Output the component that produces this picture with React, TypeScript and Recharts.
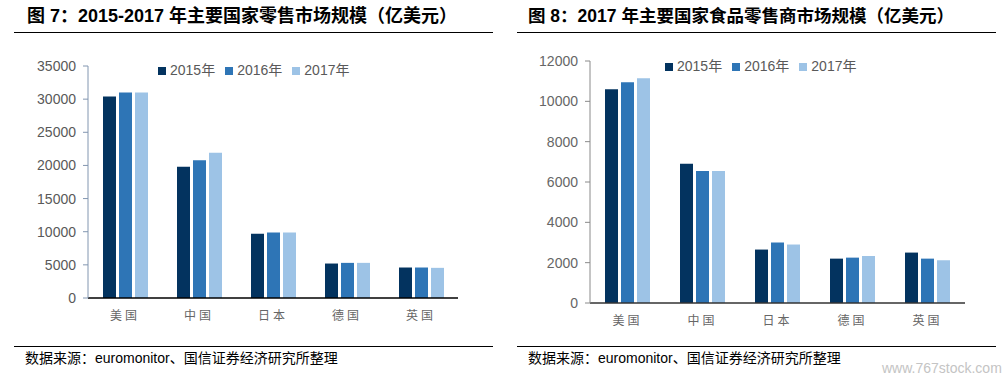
import React from 'react';
import { BarChart, Bar, XAxis, YAxis, Legend } from 'recharts';

const countries = ['美国', '中国', '日本', '德国', '英国'];
const years = ['2015年', '2016年', '2017年'];

// 图7 零售市场规模（亿美元）
const retail2015 = [30400, 19800, 9700, 5200, 4600];
const retail2016 = [31000, 20800, 9900, 5300, 4600];
const retail2017 = [31000, 21900, 9900, 5300, 4550];
const retailTicks = [0, 5000, 10000, 15000, 20000, 25000, 30000, 35000];

// 图8 食品零售商市场规模（亿美元）
const food2015 = [10600, 6900, 2650, 2200, 2500];
const food2016 = [10950, 6550, 3000, 2250, 2200];
const food2017 = [11150, 6550, 2900, 2330, 2120];
const foodTicks = [0, 2000, 4000, 6000, 8000, 10000, 12000];

// category boundaries, for the tick marks between the groups
const frameTicks = [0, 1, 2, 3, 4, 5];

const COLORS = ['#03335f', '#2e75b6', '#9dc3e6'];
const FONT = '"Liberation Sans", Arial, "Noto Sans CJK SC", sans-serif';

const toRows = (a: number[], b: number[], c: number[]) =>
  countries.map((name, i) => ({ name, [years[0]]: a[i], [years[1]]: b[i], [years[2]]: c[i] }));

const retailData = toRows(retail2015, retail2016, retail2017);
const foodData = toRows(food2015, food2016, food2017);

interface PanelProps {
  data: Record<string, string | number>[];
  ticks: number[];
  margin: { top: number; right: number; left: number; bottom: number };
  yAxisColor: string;
  xAxisColor: string;
  tickColor: string;
  legendPos: { top: number; left: number };
}

const Panel: React.FC<PanelProps> = ({ data, ticks, margin, yAxisColor, xAxisColor, tickColor, legendPos }) => (
  <BarChart width={500} height={300} data={data} margin={margin} barSize={13} barGap={3}>
    {/* id 0 sits next to the plot; it only draws the line and boundary ticks */}
    <XAxis
      xAxisId={0}
      type="number"
      domain={[0, 5]}
      ticks={frameTicks}
      allowDataOverflow
      tick={false}
      tickSize={5}
      height={5}
      axisLine={{ stroke: xAxisColor, strokeWidth: 1.5 }}
      tickLine={{ stroke: xAxisColor, strokeWidth: 1.5 }}
    />
    <XAxis
      xAxisId="cat"
      dataKey="name"
      height={30}
      axisLine={false}
      tickLine={false}
      tickSize={0}
      tickMargin={8}
      tick={{ fontSize: 12, fill: '#666666', letterSpacing: 3, fontFamily: FONT }}
    />
    <YAxis
      width={60}
      domain={[0, ticks[ticks.length - 1]]}
      ticks={ticks}
      interval={0}
      tickSize={5}
      tickMargin={7}
      axisLine={{ stroke: yAxisColor }}
      tickLine={{ stroke: yAxisColor }}
      tick={{ fontSize: 14, fill: tickColor, fontFamily: FONT }}
    />
    <Legend
      layout="horizontal"
      verticalAlign="middle"
      align="center"
      iconType="square"
      iconSize={8}
      formatter={(value) => <span style={{ color: '#595959' }}>{value}</span>}
      wrapperStyle={{ top: legendPos.top, left: legendPos.left, width: 'auto', fontSize: 14, lineHeight: '16px', fontFamily: FONT }}
    />
    {years.map((y, i) => (
      <Bar key={y} xAxisId="cat" dataKey={y} fill={COLORS[i]} isAnimationActive={false} />
    ))}
  </BarChart>
);

const lineStyle: React.CSSProperties = { position: 'absolute', height: 0, borderTop: '1.5px solid #000' };

export default function App() {
  return (
    <div style={{ position: 'absolute', left: 0, top: 0, width: 1007, height: 379, background: '#fff', fontFamily: FONT, overflow: 'hidden' }}>
      <div style={{ position: 'absolute', left: 27, top: 5, fontSize: 18, fontWeight: 'bold', whiteSpace: 'nowrap', lineHeight: '22px' }}>
        图 7：2015-2017 年主要国家零售市场规模（亿美元）
      </div>
      <div style={{ ...lineStyle, left: 14, top: 32, width: 479 }} />
      <div style={{ position: 'absolute', left: 528, top: 5, fontSize: 17.5, fontWeight: 'bold', whiteSpace: 'nowrap', lineHeight: '22px' }}>
        图 8：2017 年主要国家食品零售商市场规模（亿美元）
      </div>
      <div style={{ ...lineStyle, left: 517, top: 32, width: 479 }} />

      <div style={{ position: 'absolute', left: 0, top: 40 }}>
        <Panel
          data={retailData}
          ticks={retailTicks}
          margin={{ top: 26, right: 42, left: 28, bottom: 7 }}
          yAxisColor="#8296b0"
          xAxisColor="#000000"
          tickColor="#595959"
          legendPos={{ top: 22, left: 158 }}
        />
      </div>
      <div style={{ position: 'absolute', left: 500, top: 40 }}>
        <Panel
          data={foodData}
          ticks={foodTicks}
          margin={{ top: 21, right: 35, left: 30, bottom: 2 }}
          yAxisColor="#8a8a8a"
          xAxisColor="#333333"
          tickColor="#666666"
          legendPos={{ top: 18, left: 165 }}
        />
      </div>

      <div style={{ ...lineStyle, left: 14, top: 346, width: 479 }} />
      <div style={{ position: 'absolute', left: 25, top: 349, fontSize: 14, whiteSpace: 'nowrap', lineHeight: '18px' }}>
        数据来源：euromonitor、国信证券经济研究所整理
      </div>
      <div style={{ ...lineStyle, left: 517, top: 346, width: 479 }} />
      <div style={{ position: 'absolute', left: 528, top: 349, fontSize: 14, whiteSpace: 'nowrap', lineHeight: '18px' }}>
        数据来源：euromonitor、国信证券经济研究所整理
      </div>
      <div style={{ position: 'absolute', left: 882, top: 359, fontSize: 14, color: '#c4c4c4', whiteSpace: 'nowrap', lineHeight: '18px', fontFamily: FONT }}>
        www.767stock.com
      </div>
    </div>
  );
}
